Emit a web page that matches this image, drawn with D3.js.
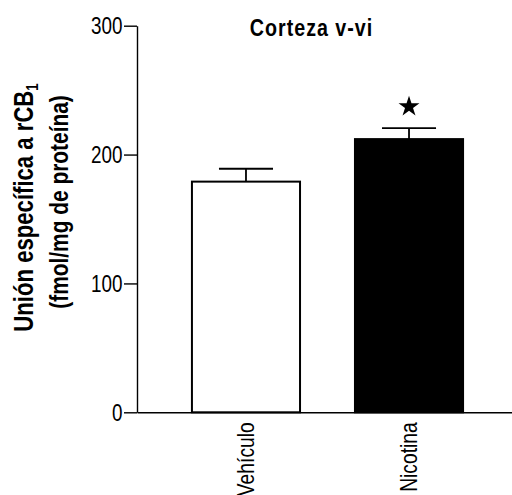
<!DOCTYPE html>
<html>
<head>
<meta charset="utf-8">
<script src="https://cdn.jsdelivr.net/npm/d3@7"></script>
<style>
  html, body { margin: 0; padding: 0; background: #fff; }
  svg { display: block; }
  text { font-family: "Liberation Sans", Arial, sans-serif; fill: #000; }
</style>
</head>
<body>
<svg id="chart" width="512" height="495"></svg>
<script>
// Specific rCB1 binding in cortex layers V-VI
const categories = ["Vehículo", "Nicotina"];
const means = [179, 212];
const sems = [10, 8.5];
const fills = ["#ffffff", "#000000"];
const significant = [false, true];
const yTicks = [0, 100, 200, 300];
const title = "Corteza v-vi";

// Narrow type: condense glyphs along the reading direction
const NARROW = 0.82;

const svg = d3.select("#chart");

const y = d3.scaleLinear().domain([0, 300]).range([412.3, 25.7]);
const x = d3.scaleBand().domain(categories).range([137, 518]).padding(0.337);

// Y axis
const yAxis = svg.append("g")
  .attr("transform", "translate(137,0)")
  .call(d3.axisLeft(y).tickValues(yTicks).tickSize(13).tickSizeOuter(0).tickPadding(2));
yAxis.selectAll("path, line").attr("stroke", "#000").attr("stroke-width", 1.4);
yAxis.selectAll("text")
  .style("font-size", "23px")
  .attr("x", null)
  .attr("transform", `translate(-14.5,0) scale(${NARROW},1)`)
  .attr("dy", "0.36em");

// Bars
svg.append("g").selectAll("rect")
  .data(categories)
  .join("rect")
  .attr("x", d => x(d))
  .attr("width", x.bandwidth())
  .attr("y", (d, i) => y(means[i]))
  .attr("height", (d, i) => y(0) - y(means[i]))
  .attr("fill", (d, i) => fills[i])
  .attr("stroke", "#000")
  .attr("stroke-width", 2);

// Error bars (upper SEM)
const eb = svg.append("g").attr("stroke", "#000").attr("stroke-width", 1.8);
categories.forEach((c, i) => {
  const cx = x(c) + x.bandwidth() / 2;
  const half = x.bandwidth() / 4;
  eb.append("line")
    .attr("x1", cx).attr("x2", cx)
    .attr("y1", y(means[i])).attr("y2", y(means[i] + sems[i]));
  eb.append("line")
    .attr("x1", cx - half).attr("x2", cx + half)
    .attr("y1", y(means[i] + sems[i])).attr("y2", y(means[i] + sems[i]));
});

// Significance marks
svg.append("g").selectAll("path")
  .data(categories.filter((c, i) => significant[i]))
  .join("path")
  .attr("d", d3.symbol(d3.symbolStar, 136))
  .attr("transform", d => {
    const i = categories.indexOf(d);
    return `translate(${x(d) + x.bandwidth() / 2},${y(means[i] + sems[i]) - 21.5})`;
  })
  .attr("fill", "#000");

// X axis
const xAxis = svg.append("g")
  .attr("transform", `translate(0,${y(0)})`)
  .call(d3.axisBottom(x).tickSize(0).tickSizeOuter(0));
xAxis.select(".domain").attr("stroke", "#000").attr("stroke-width", 1.4);
xAxis.selectAll("text")
  .style("font-size", "23.5px")
  .attr("text-anchor", "end")
  .attr("transform", `rotate(-90) scale(${NARROW},1)`)
  .attr("x", -10 / NARROW)
  .attr("y", 0)
  .attr("dy", "0.33em");

// Title
svg.append("text")
  .attr("transform", `translate(311.5,36) scale(${NARROW},1)`)
  .attr("text-anchor", "middle")
  .style("font-size", "24px")
  .style("font-weight", "bold")
  .style("letter-spacing", "1.2px")
  .text(title);

// Y axis label (two lines)
const l1 = svg.append("text")
  .attr("transform", `translate(33,207.5) rotate(-90) scale(${NARROW},1)`)
  .attr("text-anchor", "middle")
  .style("font-size", "27px")
  .style("font-weight", "bold");
l1.append("tspan").text("Unión específica a rCB");
l1.append("tspan").attr("dy", 5).style("font-size", "16px").text("1");

svg.append("text")
  .attr("transform", `translate(68,202) rotate(-90) scale(${NARROW},1)`)
  .attr("text-anchor", "middle")
  .style("font-size", "25.5px")
  .style("font-weight", "bold")
  .text("(fmol/mg de proteína)");
</script>
</body>
</html>
